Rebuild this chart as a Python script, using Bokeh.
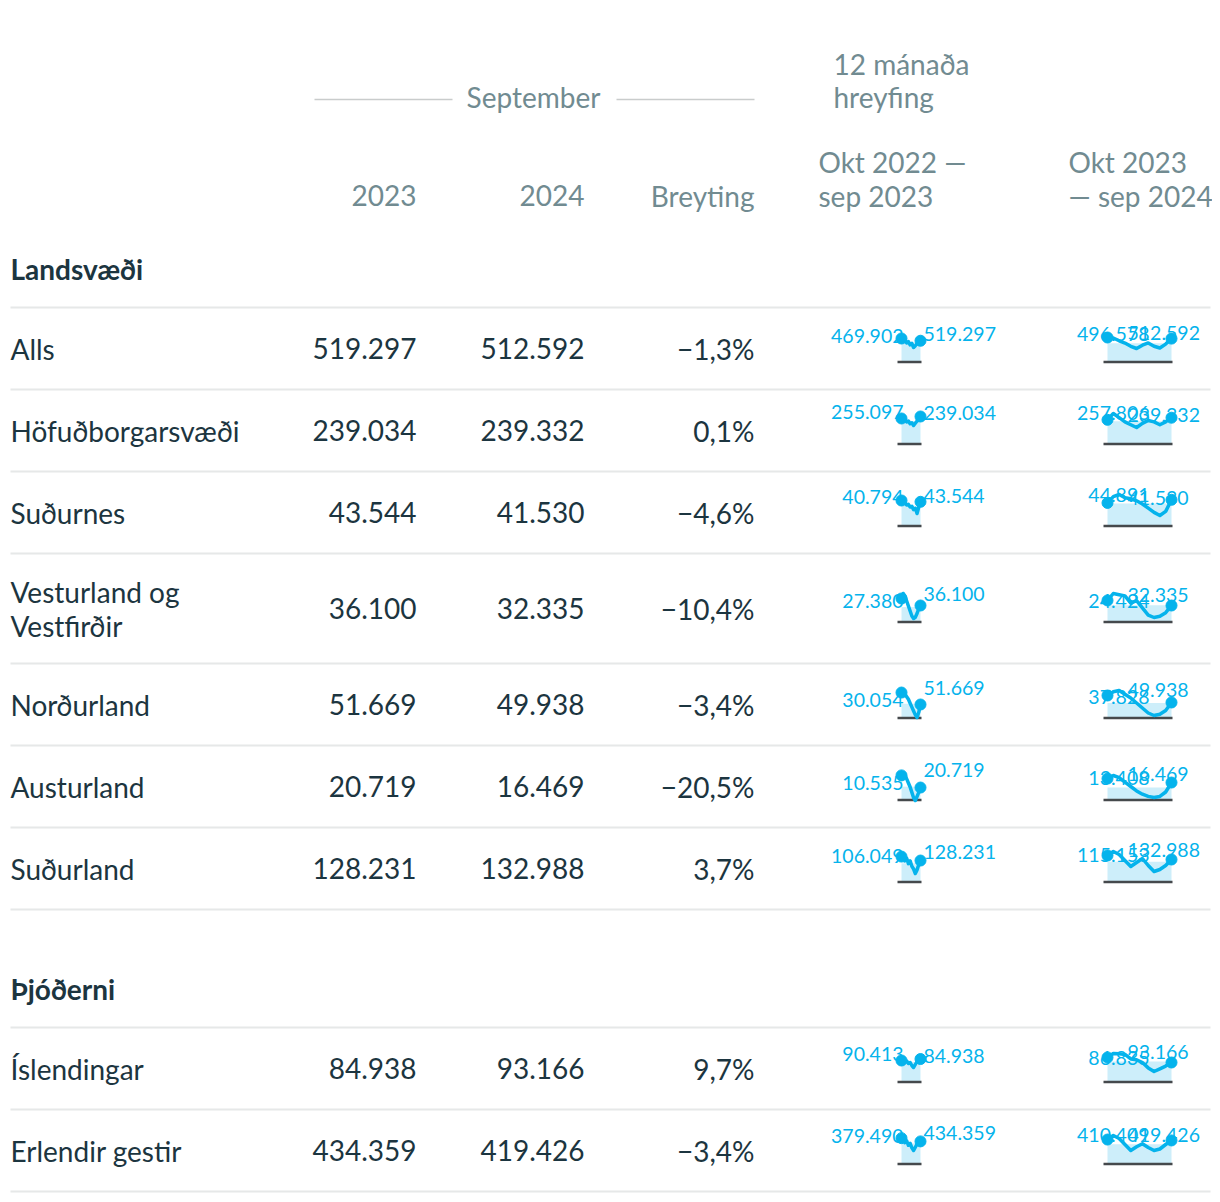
import numpy as np
from bokeh.plotting import figure
from bokeh.models import Range1d
from bokeh.core.properties import value
from bokeh.embed import file_html
from bokeh.resources import INLINE

# ---------------- data ----------------
section_titles = ["Landsvæði", "Þjóðerni"]
row_labels = [["Alls"], ["Höfuðborgarsvæði"], ["Suðurnes"], ["Vesturland og", "Vestfirðir"],
              ["Norðurland"], ["Austurland"], ["Suðurland"], ["Íslendingar"], ["Erlendir gestir"]]
month_header = "September"
col_headers = ["2023", "2024", "Breyting"]
trend_header = ["12 mánaða", "hreyfing"]
trend_periods = [["Okt 2022 —", "sep 2023"], ["Okt 2023", "— sep 2024"]]

sep_2023 = [519297, 239034, 43544, 36100, 51669, 20719, 128231, 84938, 434359]
sep_2024 = [512592, 239332, 41530, 32335, 49938, 16469, 132988, 93166, 419426]
change_pct = [-1.3, 0.1, -4.6, -10.4, -3.4, -20.5, 3.7, 9.7, -3.4]

# monthly series Oct -> Sep (estimated from the sparklines)
trend_2022_2023 = [
    [469902, 529200, 499500, 568700, 539100, 608200, 578600, 667500, 628000, 579300, 538900, 519297],
    [255097, 271890, 264600, 282800, 275500, 297400, 290100, 312000, 293800, 275600, 260900, 239034],
    [40794, 46300, 44900, 50400, 49000, 54500, 53200, 60000, 57300, 68300, 54600, 43544],
    [27380, 21150, 24270, 30490, 36720, 42950, 49180, 52290, 50740, 46070, 39840, 36100],
    [30054, 28170, 32870, 37570, 42270, 49320, 56370, 63420, 70470, 75160, 65770, 51669],
    [10535, 8950, 10080, 13480, 16870, 20270, 24790, 29320, 31580, 28190, 24800, 20719],
    [106049, 100020, 130240, 115120, 145360, 130200, 160480, 175600, 200800, 180640, 150400, 128231],
    [90413, 86760, 95890, 92240, 101360, 97710, 108660, 115960, 105010, 94060, 79460, 84938],
    [379490, 368520, 456310, 423380, 500200, 467280, 544100, 588000, 533120, 478250, 445330, 434359],
]
trend_2023_2024 = [
    [496578, 504412, 544130, 576882, 624510, 656700, 608940, 576300, 624120, 648650, 592480, 512592],
    [257806, 202384, 239300, 276280, 300900, 325500, 288600, 264000, 276300, 301000, 276200, 239332],
    [44891, 38200, 35900, 39300, 40400, 42600, 46000, 50500, 55000, 58300, 53900, 41530],
    [24424, 13500, 15380, 17270, 28570, 24800, 36100, 47400, 51170, 49290, 43640, 32335],
    [37828, 31340, 29180, 35670, 42150, 50800, 59450, 68100, 72430, 70270, 63780, 49938],
    [13408, 11030, 12730, 16130, 19530, 22930, 25480, 27180, 28030, 27200, 23780, 16469],
    [115153, 97320, 110690, 137450, 164200, 146360, 128530, 159740, 186490, 177580, 159700, 132988],
    [86835, 81860, 82310, 82990, 88640, 89780, 93170, 99950, 104470, 101080, 97690, 93166],
    [410409, 369830, 399890, 460010, 520130, 482550, 452490, 490070, 520100, 505100, 460000, 419426],
]

# ---------------- layout (page pixels) ----------------
W, H, M = 1212, 1194, 0
FONT = value("Lato")
HEAD_C = "#718b91"
TEXT_C = "#1c3540"
BLUE = "#05b3ec"
FILL = "#cdeefa"
BASE_C = "#45494c"
RULE_C = "#e6e8e8"
FS = "28px"

row_y = [350, 432, 514, 610, 706, 788, 870, 1070, 1152]
section_y = [270, 990]
sep_lines = [307, 389, 471, 553, 663, 745, 827, 909, 1027, 1109, 1191]
col_right = [416, 584, 754]
spark_x = [(901, 920), (1107, 1171)]
label_off = [(2, 3), (42, -44)]
band = [
    [(338, 347), (416, 425), (500, 513), (593, 618), (691, 717), (773, 800), (855, 873), (1057, 1067), (1137, 1150)],
    [(337, 348), (413, 427), (494, 515), (593, 617), (690, 715), (775, 797), (851, 871), (1053, 1071), (1135, 1150)],
]

p = figure(width=W, height=H, x_range=Range1d(M, M + W), y_range=Range1d(M + H, M),
           output_backend="svg", toolbar_location=None, x_axis_type=None, y_axis_type=None,
           min_border=0)
p.outline_line_color = None
p.background_fill_color = "white"
p.border_fill_color = "white"


def txt(x, y, t, size=FS, color=TEXT_C, align="left", bold=False, dy=-2, **kw):
    p.text(x=x, y=y, text=t, text_font=FONT, text_font_size=value(size), text_color=color,
           text_align=align, text_baseline="middle", text_font_style="bold" if bold else "normal",
           y_offset=dy, **kw)


def fmt(v):
    return f"{v:,}".replace(",", ".")


def fmt_pct(c):
    return ("\u2212" if c < 0 else "") + f"{abs(c):.1f}".replace(".", ",") + "%"


# header
txt([533], [98], [month_header], color=HEAD_C, align="center")
p.segment(x0=[314, 616], x1=[452, 754], y0=[99, 99], y1=[99, 99], line_color="#c9cccc", line_width=1.5)
txt([833, 833], [65, 98], trend_header, color=HEAD_C)
txt([818, 818], [163, 197], trend_periods[0], color=HEAD_C)
txt([1068, 1068], [163, 197], trend_periods[1], color=HEAD_C)
txt(col_right, [197, 197, 197], col_headers, color=HEAD_C, align="right")

# section titles
txt([10, 10], section_y, section_titles, bold=True)

# separators
p.segment(x0=[10] * len(sep_lines), x1=[1210] * len(sep_lines), y0=sep_lines, y1=sep_lines,
          line_color=RULE_C, line_width=2)

# rows
for i, lines in enumerate(row_labels):
    n = len(lines)
    ys = [row_y[i] + (j - (n - 1) / 2) * 34 for j in range(n)]
    txt([10] * n, ys, lines)
txt([col_right[0]] * 9, row_y, [fmt(v) for v in sep_2023], align="right")
txt([col_right[1]] * 9, row_y, [fmt(v) for v in sep_2024], align="right")
txt([col_right[2]] * 9, row_y, [fmt_pct(c) for c in change_pct], align="right")

# sparklines
xr, yr = {}, {}
specs = []
for c, series in enumerate([trend_2022_2023, trend_2023_2024]):
    x0, x1 = spark_x[c]
    for r, vals in enumerate(series):
        name = f"s{c}_{r}"
        n = len(vals)
        k = (x1 - x0) / (n - 1)
        a = -(x0 - M) / k
        xr[name] = Range1d(a, a + W / k)
        ytop, ybot = band[c][r]
        vmin, vmax = min(vals), max(vals)
        py_top = M + H - ytop
        py_bot = M + H - ybot
        ky = (py_bot - py_top) / (vmax - vmin)
        start = vmin - py_top / ky
        yr[name] = Range1d(start, start + H / ky)
        ybase = row_y[r] + 11.5
        v_base = vmin + (ybase - ytop) / (ybot - ytop) * (vmax - vmin)
        specs.append((name, vals, k, v_base, label_off[c]))
p.extra_x_ranges = xr
p.extra_y_ranges = yr

for name, vals, k, v_base, (o1, o2) in specs:
    n = len(vals)
    idx = list(range(n))
    kw = dict(x_range_name=name, y_range_name=name)
    p.quad(left=[0], right=[n - 1], top=[float(np.mean(vals))], bottom=[v_base],
           fill_color=FILL, line_color=None, **kw)
    p.segment(x0=[-4 / k], x1=[n - 1 + 1 / k], y0=[v_base], y1=[v_base],
              line_color=BASE_C, line_width=2.5, **kw)
    txt([0], [vals[-1]], [fmt(vals[0])], size="19.5px", color=BLUE, align="right", x_offset=o1, dy=-5, **kw)
    txt([n - 1], [vals[0]], [fmt(vals[-1])], size="19.5px", color=BLUE, align="left", x_offset=o2, dy=-5, **kw)
    p.line(idx, vals, line_color=BLUE, line_width=3.5, line_join="round", line_cap="round", **kw)
    p.scatter([0, n - 1], [vals[0], vals[-1]], size=11, fill_color=BLUE, line_color=BLUE, **kw)

open("out.html", "w").write(file_html(p, INLINE))
